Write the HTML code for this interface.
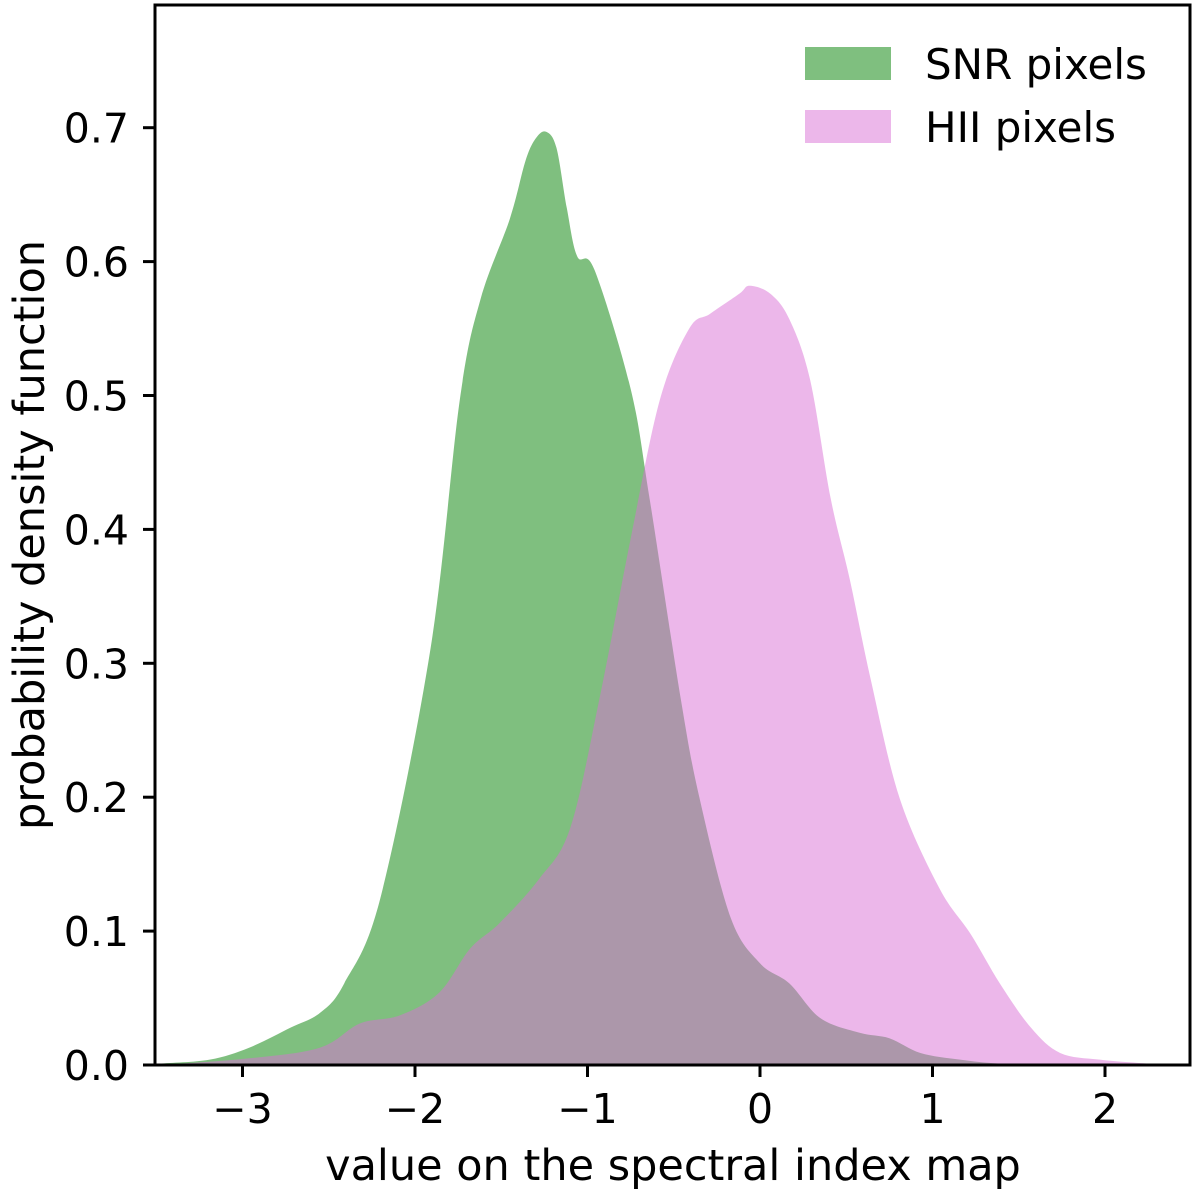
<!DOCTYPE html>
<html><head><meta charset="utf-8"><style>
body{margin:0;background:#fff;}
svg{display:block;font-family:"DejaVu Sans","Liberation Sans",sans-serif;}
</style></head><body>
<svg id="chart" width="1200" height="1195">
<g id="plot"></g>
</svg>
<script>
const xTicks=[-3,-2,-1,0,1,2];
const yTicks=[0.0,0.1,0.2,0.3,0.4,0.5,0.6,0.7];
const snrX=[-3.55,-3.48,-3.19,-2.96,-2.72,-2.55,-2.41,-2.2,-1.91,-1.74,-1.62,-1.45,-1.36,-1.3,-1.24,-1.18,-1.12,-1.06,-0.96,-0.75,-0.64,-0.46,-0.35,-0.17,0,0.17,0.35,0.58,0.75,0.93,1.16,1.39,1.68,2.49];
const snrY=[0,0.001,0.004,0.013,0.028,0.039,0.061,0.125,0.311,0.497,0.572,0.632,0.675,0.692,0.697,0.685,0.64,0.604,0.594,0.505,0.423,0.274,0.199,0.110,0.076,0.061,0.035,0.024,0.020,0.009,0.004,0.001,0,0];
const hiiX=[-3.55,-3.48,-2.96,-2.55,-2.32,-2.09,-1.86,-1.68,-1.51,-1.28,-1.1,-0.93,-0.75,-0.58,-0.41,-0.29,-0.12,-0.06,0.06,0.17,0.29,0.41,0.52,0.64,0.81,1.04,1.22,1.39,1.57,1.74,1.97,2.26,2.49];
const hiiY=[0,0,0.005,0.013,0.031,0.037,0.054,0.087,0.106,0.139,0.177,0.274,0.393,0.497,0.55,0.561,0.576,0.582,0.576,0.557,0.512,0.423,0.363,0.289,0.199,0.132,0.098,0.061,0.028,0.009,0.004,0.001,0];
const L=155,R=1190,T=5,B=1065;
const sx=v=>760+v*172.5;
const sy=v=>B-v*1339;
const NS="http://www.w3.org/2000/svg";
const g=document.getElementById('plot');
function mk(t,a){const e=document.createElementNS(NS,t);for(const k in a)e.setAttribute(k,a[k]);g.appendChild(e);return e;}
function area(xs,ys){
  const p=xs.map((x,i)=>[sx(x),sy(ys[i])]);
  let d=`M${p[0][0]},${B}L${p[0][0]},${p[0][1]}`;
  for(let i=0;i<p.length-1;i++){
    const p0=p[Math.max(0,i-1)],p1=p[i],p2=p[i+1],p3=p[Math.min(p.length-1,i+2)];
    const c1=[p1[0]+(p2[0]-p0[0])/6,p1[1]+(p2[1]-p0[1])/6];
    const c2=[p2[0]-(p3[0]-p1[0])/6,p2[1]-(p3[1]-p1[1])/6];
    d+=`C${c1[0]},${Math.min(B,c1[1])} ${c2[0]},${Math.min(B,c2[1])} ${p2[0]},${p2[1]}`;
  }
  d+=`L${p[p.length-1][0]},${B}Z`;return d;
}
const clip=mk('clipPath',{id:'c'});
const cr=document.createElementNS(NS,'rect');cr.setAttribute('x',L);cr.setAttribute('y',T);cr.setAttribute('width',R-L);cr.setAttribute('height',B-T);clip.appendChild(cr);
const a1=mk('path',{d:area(snrX,snrY),fill:'green','fill-opacity':0.5,'clip-path':'url(#c)'});


const a2=mk('path',{d:area(hiiX,hiiY),fill:'orchid','fill-opacity':0.5,'clip-path':'url(#c)'});


const fr=mk('rect',{x:L,y:T,width:R-L,height:B-T,fill:'none',stroke:'#000','stroke-width':3});


xTicks.forEach(v=>{
  mk('line',{x1:sx(v),x2:sx(v),y1:B,y2:B+12,stroke:'#000','stroke-width':3});
  const t=mk('text',{x:sx(v),y:1123,'font-size':41,'text-anchor':'middle'});
  t.textContent=(v<0?'\u2212'+(-v):String(v));
  
  
});
yTicks.forEach(v=>{
  mk('line',{x1:L-12,x2:L,y1:sy(v),y2:sy(v),stroke:'#000','stroke-width':3});
  const t=mk('text',{x:129,y:sy(v)+15,'font-size':41,'text-anchor':'end'});
  t.textContent=v.toFixed(1);
  
  
});
const xt=mk('text',{x:673,y:1180,'font-size':43,'text-anchor':'middle'});
xt.textContent='value on the spectral index map';


const yt=mk('text',{x:0,y:0,'font-size':43,'text-anchor':'middle',transform:`translate(44,535) rotate(-90)`});
yt.textContent='probability density function';


[['SNR pixels','green',64],['HII pixels','orchid',127]].forEach(([lab,c,y])=>{
  const r=mk('rect',{x:805,y:y-17,width:86,height:33,fill:c,'fill-opacity':0.5});
  
  
  const t=mk('text',{x:925,y:y+15,'font-size':42});
  t.textContent=lab;
  
  
});
</script>
</body></html>
